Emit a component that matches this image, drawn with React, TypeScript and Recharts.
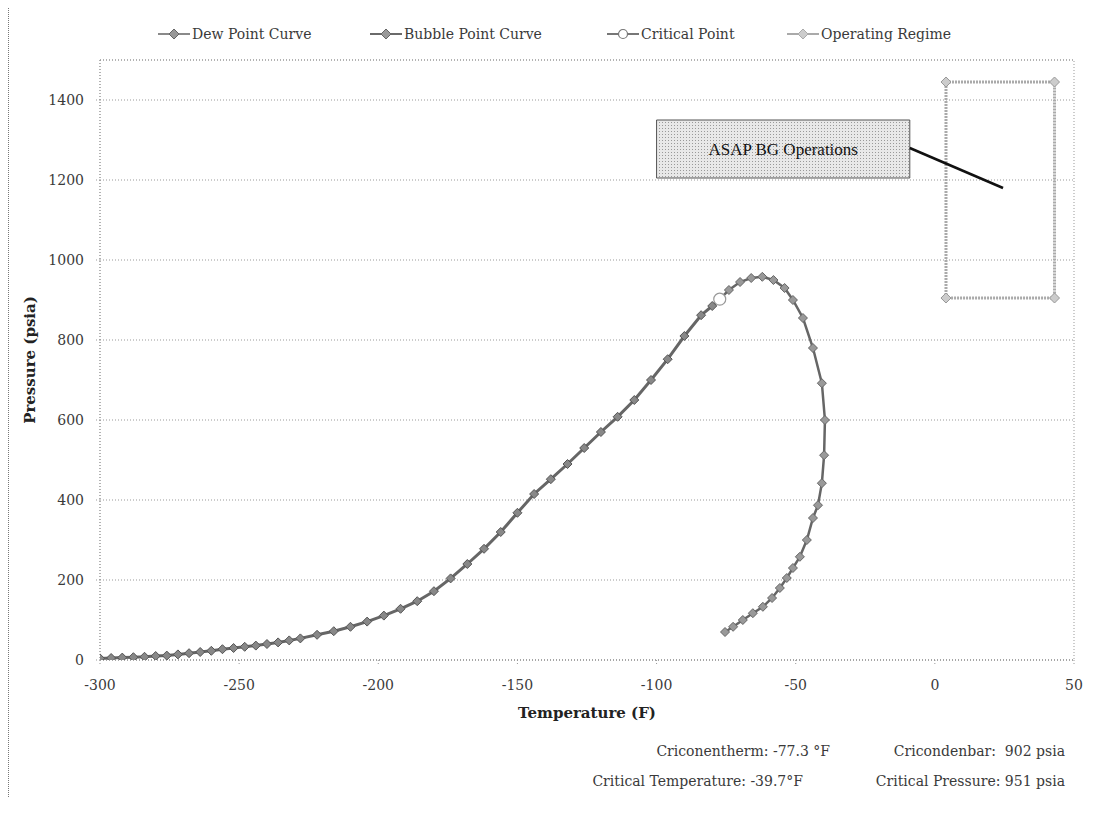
import React from "react";
import {
  LineChart,
  Line,
  XAxis,
  YAxis,
  CartesianGrid,
  ReferenceArea,
  ReferenceLine,
} from "recharts";

// phase envelope
const bubbleTemp = [-300, -296, -292, -288, -284, -280, -276, -272, -268, -264, -260, -256, -252, -248, -244, -240, -236, -232, -228, -222, -216, -210, -204, -198, -192, -186, -180, -174, -168, -162, -156, -150, -144, -138, -132, -126, -120, -114, -108, -102, -96, -90, -84, -80, -77.3];
const bubblePress = [4, 5, 6, 7, 8, 10, 11, 14, 17, 20, 23, 27, 30, 33, 36, 40, 44, 49, 54, 63, 72, 83, 96, 111, 128, 147, 172, 204, 240, 278, 320, 368, 415, 452, 490, 530, 570, 608, 650, 700, 752, 810, 862, 885, 902];

const dewTemp = [-77.3, -74, -70, -66, -62, -58, -54, -51, -47.4, -43.8, -40.6, -39.5, -39.8, -40.6, -42, -43.8, -46, -48.5, -51, -53.2, -55.7, -58.5, -61.8, -65.4, -69, -72.5, -75.4];
const dewPress = [902, 925, 945, 955, 958, 950, 930, 900, 855, 780, 692, 600, 512, 442, 387, 355, 300, 258, 230, 205, 180, 155, 133, 117, 100, 83, 70];

const criticalTemp = [-77.3];
const criticalPress = [902];

const regimeTemp = [4, 4, 43, 43, 4];
const regimePress = [905, 1445, 1445, 905, 905];

const xTicks = [-300, -250, -200, -150, -100, -50, 0, 50];
const yTicks = [0, 200, 400, 600, 800, 1000, 1200, 1400];

const legendNames = ["Dew Point Curve", "Bubble Point Curve", "Critical Point", "Operating Regime"];

const statsLine1 = ["Criconentherm: -77.3 °F", "Cricondenbar:  902 psia"];
const statsLine2 = ["Critical Temperature: -39.7°F", "Critical Pressure: 951 psia"];

const toPoints = (t: number[], p: number[]) => t.map((v, i) => ({ t: v, p: p[i] }));

const bubbleData = toPoints(bubbleTemp, bubblePress);
const dewData = toPoints(dewTemp, dewPress);
const criticalData = toPoints(criticalTemp, criticalPress);
const regimeData = toPoints(regimeTemp, regimePress);

const FONT = '"DejaVu Serif", serif';
const TEXT = "#3a3a3a";

const diamond = (fill: string, stroke: string, r: number) => (props: any) => {
  const { cx, cy, index } = props;
  if (cx == null || cy == null) return <g key={`d-${index}`} />;
  return (
    <path
      key={`d-${index}`}
      d={`M${cx},${cy - r} L${cx + r},${cy} L${cx},${cy + r} L${cx - r},${cy} Z`}
      fill={fill}
      stroke={stroke}
      strokeWidth={1}
    />
  );
};

const LegendMark = ({ kind }: { kind: number }) => {
  const lineColor = ["#8a8a8a", "#6a6a6a", "#777", "#aaa"][kind];
  return (
    <svg width={32} height={12} style={{ marginRight: 2 }}>
      <line x1={0} y1={6} x2={32} y2={6} stroke={lineColor} strokeWidth={2} />
      {kind === 2 ? (
        <circle cx={16} cy={6} r={4.5} fill="#fff" stroke="#777" strokeWidth={1.2} />
      ) : (
        <path
          d="M16,1 L21,6 L16,11 L11,6 Z"
          fill={kind === 3 ? "#ccc" : "#999"}
          stroke={kind === 3 ? "#aaa" : "#666"}
        />
      )}
    </svg>
  );
};

const legendLeft = [150, 362, 599, 779];

const App: React.FC = () => {
  return (
    <div style={{ position: "relative", width: 1107, height: 790, fontFamily: FONT }}>
      <div
        style={{
          position: "absolute",
          left: 0,
          top: -1,
          width: 1107,
          height: 791,
          borderLeft: "1px dotted #777",
          borderTop: "1px dotted #777",
          pointerEvents: "none",
        }}
      />
      {legendNames.map((name, i) => (
        <div
          key={name}
          style={{
            position: "absolute",
            top: 18,
            left: legendLeft[i],
            display: "flex",
            alignItems: "center",
            fontSize: 14,
            color: TEXT,
            whiteSpace: "nowrap",
          }}
        >
          <LegendMark kind={i} />
          <span>{name}</span>
        </div>
      ))}

      <LineChart
        width={1107}
        height={790}
        margin={{ top: 52, right: 41, bottom: 68, left: 12 }}
      >
        <defs>
          <pattern id="dots" width={3} height={3} patternUnits="userSpaceOnUse">
            <rect width={3} height={3} fill="#e8e8e8" />
            <rect width={1} height={1} fill="#999" />
          </pattern>
        </defs>
        <CartesianGrid vertical={false} stroke="#999" strokeDasharray="1 2" />
        <XAxis
          type="number"
          dataKey="t"
          domain={[-300, 50]}
          ticks={xTicks}
          allowDataOverflow
          height={70}
          tickSize={4}
          tickMargin={16}
          stroke="#999"
          strokeDasharray="1 2"
          tick={{ fill: TEXT, fontSize: 14, fontFamily: FONT }}
          label={{
            value: "Temperature (F)",
            position: "insideBottom",
            offset: 12,
            style: { fill: "#222", fontSize: 15, fontWeight: "bold", fontFamily: FONT },
          }}
        />
        <YAxis
          type="number"
          dataKey="p"
          domain={[0, 1500]}
          ticks={yTicks}
          allowDataOverflow
          width={80}
          tickSize={4}
          tickMargin={12}
          stroke="#999"
          strokeDasharray="1 2"
          tick={{ fill: TEXT, fontSize: 14, fontFamily: FONT }}
          label={{
            value: "Pressure (psia)",
            angle: -90,
            position: "insideLeft",
            offset: 10,
            style: { textAnchor: "middle", fill: "#222", fontSize: 15, fontWeight: "bold", fontFamily: FONT },
          }}
        />
        <ReferenceArea
          x1={-300}
          x2={50}
          y1={0}
          y2={1500}
          fill="none"
          stroke="#999"
          strokeDasharray="1 2"
          ifOverflow="visible"
        />

        <Line
          data={bubbleData}
          dataKey="p"
          name={legendNames[1]}
          stroke="#666"
          strokeWidth={3}
          dot={diamond("#888", "#555", 4.5)}
          isAnimationActive={false}
        />
        <Line
          data={dewData}
          dataKey="p"
          name={legendNames[0]}
          stroke="#666"
          strokeWidth={2.5}
          dot={diamond("#999", "#666", 4.5)}
          isAnimationActive={false}
        />
        <Line
          data={criticalData}
          dataKey="p"
          name={legendNames[2]}
          stroke="#777"
          dot={{ r: 6, fill: "#fff", stroke: "#999", strokeWidth: 1.2 }}
          isAnimationActive={false}
        />
        <Line
          data={regimeData}
          dataKey="p"
          name={legendNames[3]}
          stroke="#aaa"
          strokeWidth={3}
          strokeDasharray="2 1"
          dot={diamond("#ccc", "#999", 5)}
          isAnimationActive={false}
        />

        <ReferenceArea
          x1={-100}
          x2={-9}
          y1={1205}
          y2={1350}
          fill="url(#dots)"
          fillOpacity={1}
          stroke="#555"
          ifOverflow="visible"
          label={{
            value: "ASAP BG Operations",
            position: "center",
            style: { fill: "#111", fontSize: 17, fontFamily: '"Liberation Serif", serif' },
          }}
        />
        <ReferenceLine
          segment={[
            { x: -9, y: 1280 },
            { x: 24.5, y: 1180 },
          ]}
          stroke="#111"
          strokeWidth={2.5}
          ifOverflow="visible"
        />
      </LineChart>

      <div style={{ position: "absolute", top: 735, right: 285, fontSize: 14, color: TEXT, whiteSpace: "pre" }}>
        {statsLine1[0]}
      </div>
      <div style={{ position: "absolute", top: 735, right: 50, fontSize: 14, color: TEXT, whiteSpace: "pre" }}>
        {statsLine1[1]}
      </div>
      <div style={{ position: "absolute", top: 765, right: 312, fontSize: 14, color: TEXT, whiteSpace: "pre" }}>
        {statsLine2[0]}
      </div>
      <div style={{ position: "absolute", top: 765, right: 50, fontSize: 14, color: TEXT, whiteSpace: "pre" }}>
        {statsLine2[1]}
      </div>
    </div>
  );
};

export default App;
